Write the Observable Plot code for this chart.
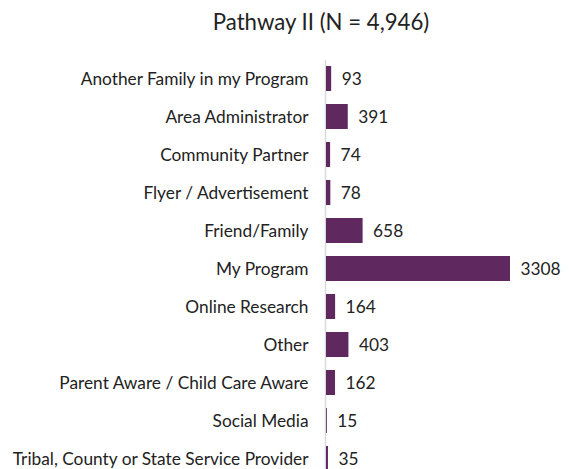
<!DOCTYPE html>
<html>
<head>
<meta charset="utf-8">
<script src="https://cdn.jsdelivr.net/npm/d3@7"></script>
<script src="https://cdn.jsdelivr.net/npm/@observablehq/plot@0.6"></script>
<style>
  html, body { margin: 0; padding: 0; background: #fff; }
  #wrap { position: relative; width: 569px; height: 469px; overflow: hidden; }
  #title { position: absolute; top: 8px; left: 0; width: 569px; padding-left: 73px; box-sizing: border-box;
           text-align: center; font-family: Lato, "Open Sans", sans-serif; font-size: 22.2px; color: #222; }
  #chart { position: absolute; top: 0; left: 0; }
</style>
</head>
<body>
<div id="wrap">
  <div id="title">Pathway II (N = 4,946)</div>
  <div id="chart"></div>
</div>
<script>
const categories = [
  "Another Family in my Program",
  "Area Administrator",
  "Community Partner",
  "Flyer / Advertisement",
  "Friend/Family",
  "My Program",
  "Online Research",
  "Other",
  "Parent Aware / Child Care Aware",
  "Social Media",
  "Tribal, County or State Service Provider"
];
const counts = [93, 391, 74, 78, 658, 3308, 164, 403, 162, 15, 35];
const barColor = "#5f285f";

const data = categories.map((c, i) => ({label: c, value: counts[i]}));

const chart = Plot.plot({
  width: 569,
  height: 469,
  marginLeft: 325,
  marginRight: 0,
  marginTop: 60,
  marginBottom: 0,
  style: {fontFamily: "Lato, 'Open Sans', sans-serif", fontSize: "17.3px", color: "#222", background: "transparent"},
  x: {domain: [0, 3308], range: [326, 510], axis: null},
  y: {domain: categories, range: [60, 478], paddingInner: 0.33, paddingOuter: 0.165, label: null},
  marks: [
    Plot.ruleX([0], {stroke: "#d9d9d9", strokeWidth: 1.5, dx: -1}),
    Plot.barX(data, {x: "value", y: "label", fill: barColor}),
    Plot.text(data, {x: "value", y: "label", text: d => String(d.value), textAnchor: "start", dx: 10, fill: "#222", fontSize: 17.3}),
    Plot.axisY({tickSize: 0, tickPadding: 17, fontSize: 17.3, label: null, fill: "#222"})
  ]
});
document.getElementById("chart").appendChild(chart);
</script>
</body>
</html>
